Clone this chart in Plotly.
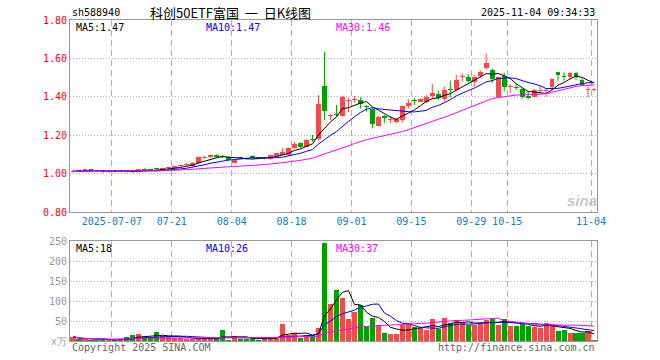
import plotly.graph_objects as go
import pandas as pd

# ---------------- data ----------------
dates = [d.strftime('%Y-%m-%d') for d in pd.bdate_range('2025-06-26', '2025-11-04')
         if not ('2025-10-01' <= d.strftime('%Y-%m-%d') <= '2025-10-08')]

open_ = [1.008, 1.016, 1.016, 1.020, 1.016, 1.012, 1.010, 1.012, 1.010, 1.013,
         1.011, 1.008, 1.022, 1.020, 1.024, 1.020, 1.029, 1.030, 1.040, 1.044,
         1.038, 1.055, 1.083, 1.085, 1.097, 1.090, 1.085, 1.057, 1.084, 1.080,
         1.093, 1.082, 1.079, 1.074, 1.092, 1.097, 1.097, 1.132, 1.158, 1.140,
         1.180, 1.178, 1.456, 1.300, 1.307, 1.300, 1.378, 1.385, 1.383, 1.348,
         1.335, 1.248, 1.295, 1.278, 1.268, 1.279, 1.352, 1.378, 1.375, 1.375,
         1.404, 1.415, 1.387, 1.437, 1.435, 1.503, 1.501, 1.479, 1.510, 1.548,
         1.540, 1.401, 1.508, 1.452, 1.446, 1.439, 1.404, 1.401, 1.430, 1.428,
         1.453, 1.527, 1.507, 1.505, 1.526, 1.488, 1.433, 1.437]
high = [1.022, 1.020, 1.024, 1.022, 1.018, 1.015, 1.014, 1.014, 1.016, 1.016,
        1.014, 1.024, 1.028, 1.024, 1.030, 1.030, 1.036, 1.042, 1.048, 1.056,
        1.060, 1.090, 1.092, 1.099, 1.100, 1.096, 1.088, 1.072, 1.088, 1.084,
        1.096, 1.086, 1.085, 1.099, 1.108, 1.132, 1.135, 1.166, 1.162, 1.178,
        1.201, 1.409, 1.635, 1.310, 1.357, 1.405, 1.395, 1.404, 1.397, 1.357,
        1.340, 1.300, 1.305, 1.297, 1.290, 1.355, 1.387, 1.392, 1.392, 1.409,
        1.467, 1.432, 1.453, 1.484, 1.514, 1.522, 1.518, 1.514, 1.540, 1.626,
        1.548, 1.505, 1.526, 1.466, 1.466, 1.444, 1.427, 1.440, 1.456, 1.444,
        1.496, 1.531, 1.531, 1.531, 1.531, 1.496, 1.453, 1.444]
low = [1.005, 1.010, 1.012, 1.012, 1.008, 1.006, 1.006, 1.006, 1.008, 1.006,
       1.004, 1.006, 1.012, 1.012, 1.016, 1.018, 1.024, 1.028, 1.034, 1.040,
       1.036, 1.052, 1.078, 1.082, 1.083, 1.080, 1.068, 1.054, 1.076, 1.074,
       1.078, 1.075, 1.074, 1.072, 1.090, 1.095, 1.095, 1.128, 1.132, 1.138,
       1.166, 1.175, 1.279, 1.279, 1.297, 1.298, 1.320, 1.370, 1.340, 1.323,
       1.236, 1.245, 1.265, 1.262, 1.262, 1.265, 1.340, 1.357, 1.372, 1.366,
       1.392, 1.383, 1.375, 1.397, 1.427, 1.479, 1.474, 1.453, 1.500, 1.543,
       1.470, 1.400, 1.427, 1.420, 1.435, 1.387, 1.387, 1.397, 1.415, 1.401,
       1.432, 1.484, 1.484, 1.490, 1.488, 1.456, 1.397, 1.427]
close = [1.012, 1.014, 1.020, 1.016, 1.012, 1.010, 1.012, 1.010, 1.013, 1.011,
         1.008, 1.022, 1.020, 1.018, 1.022, 1.027, 1.032, 1.040, 1.043, 1.050,
         1.057, 1.088, 1.086, 1.097, 1.085, 1.088, 1.071, 1.070, 1.079, 1.078,
         1.081, 1.080, 1.082, 1.097, 1.106, 1.114, 1.132, 1.154, 1.137, 1.175,
         1.177, 1.363, 1.328, 1.305, 1.303, 1.397, 1.383, 1.390, 1.363, 1.345,
         1.258, 1.297, 1.292, 1.281, 1.282, 1.352, 1.366, 1.376, 1.389, 1.397,
         1.422, 1.392, 1.435, 1.434, 1.488, 1.506, 1.484, 1.505, 1.531, 1.578,
         1.491, 1.501, 1.449, 1.456, 1.444, 1.397, 1.392, 1.435, 1.432, 1.431,
         1.491, 1.514, 1.505, 1.526, 1.501, 1.461, 1.436, 1.440]
volume = [11, 4, 4, 3, 3, 3, 2, 4, 3, 10,
          14, 18, 10, 10, 22, 12, 10, 8, 8, 6,
          4, 4, 8, 4, 8, 27, 3, 12, 5, 5,
          4, 3, 8, 10, 10, 42, 16, 19, 8, 15,
          14, 33, 246, 93, 128, 108, 55, 72, 89, 37,
          57, 40, 20, 17, 17, 40, 44, 35, 33, 27,
          54, 30, 57, 45, 52, 45, 41, 41, 45, 52,
          54, 40, 54, 37, 37, 44, 37, 35, 32, 46,
          41, 24, 27, 20, 20, 21, 26, 3]

price_ticks = [0.8, 1.0, 1.2, 1.4, 1.6, 1.8]
vol_ticks = [0, 50, 100, 150, 200, 250]
vol_tick_text = ['x万', '50', '100', '150', '200', '250']
date_tick_dates = ['2025-07-07', '2025-07-21', '2025-08-04', '2025-08-18', '2025-09-01',
                   '2025-09-15', '2025-09-29', '2025-10-15', '2025-11-04']
date_tick_text = ['2025-07-07', '07-21', '08-04', '08-18', '09-01',
                  '09-15', '09-29', '10-15', '11-04']

# ---------------- derived ----------------
n = len(dates)
x = list(range(n))
cs = pd.Series(close)
vs = pd.Series(volume, dtype=float)
ma = {k: cs.rolling(k, min_periods=1).mean() for k in (5, 10, 30)}
vma = {k: vs.rolling(k, min_periods=1).mean() for k in (5, 10, 30)}

RED = '#f24b4b'
GREEN = '#00a000'
MA_COL = {5: '#000000', 10: '#0000ff', 30: '#ff00ff'}

up = [c >= o for o, c in zip(open_, close)]

fig = go.Figure()

# wicks
for flag, col in ((True, RED), (False, GREEN)):
    wx, wy = [], []
    for i in x:
        if up[i] == flag:
            wx += [i, i, None]
            wy += [low[i], high[i], None]
    fig.add_trace(go.Scatter(x=wx, y=wy, mode='lines', line=dict(color=col, width=1),
                             hoverinfo='skip', xaxis='x', yaxis='y'))

# bodies
for flag, col in ((True, RED), (False, GREEN)):
    bx = [i for i in x if up[i] == flag]
    base = [min(open_[i], close[i]) for i in bx]
    hgt = [max(abs(close[i] - open_[i]), 0.0055) for i in bx]
    fig.add_trace(go.Bar(x=bx, y=hgt, base=base, width=0.8, marker=dict(color=col, line=dict(width=0)),
                         xaxis='x', yaxis='y'))

# price MAs
for k in (5, 10, 30):
    fig.add_trace(go.Scatter(x=x, y=ma[k], mode='lines', line=dict(color=MA_COL[k], width=1),
                             xaxis='x', yaxis='y'))

# volume bars
for flag, col in ((True, RED), (False, GREEN)):
    bx = [i for i in x if up[i] == flag]
    fig.add_trace(go.Bar(x=bx, y=[volume[i] for i in bx], width=0.85,
                         marker=dict(color=col, line=dict(width=0)), xaxis='x2', yaxis='y2'))

for k in (5, 10, 30):
    fig.add_trace(go.Scatter(x=x, y=vma[k], mode='lines', line=dict(color=MA_COL[k], width=1),
                             xaxis='x2', yaxis='y2'))

# ---------------- layout ----------------
L, R, T, B = 70, 597, 20, 341
W = R - L
H = B - T


def px(xx, yy):
    return (xx - L) / W, (B - yy) / H


main_bottom = 212
vol_top = 241
tickpos = [dates.index(d) - 0.5 for d in date_tick_dates]
MONO = 'DejaVu Sans Mono'

axis_common = dict(showline=True, mirror=True, linecolor='#999999', linewidth=1,
                   zeroline=False, ticks='', fixedrange=True, automargin=False)

fig.update_layout(
    width=660, height=360,
    margin=dict(l=L, r=660 - R, t=T, b=360 - B, autoexpand=False),
    paper_bgcolor='white', plot_bgcolor='white',
    showlegend=False, barmode='overlay', bargap=0,
    xaxis=dict(domain=[0, 1], anchor='y', range=[-0.5, n - 0.5],
               tickvals=tickpos, ticktext=date_tick_text,
               tickfont=dict(family=MONO, size=10, color='#0a7fc8'),
               showgrid=True, gridcolor='#b0b0b0', griddash='6px,4px', gridwidth=1,
               **axis_common),
    yaxis=dict(domain=[px(0, main_bottom)[1], 1], anchor='x', range=[0.8, 1.8],
               tickvals=price_ticks, tickformat='.2f',
               tickfont=dict(family=MONO, size=10, color='#ff0000'),
               showgrid=True, gridcolor='#b0b0b0', griddash='1px,2px', gridwidth=1,
               **axis_common),
    xaxis2=dict(domain=[0, 1], anchor='y2', matches='x', range=[-0.5, n - 0.5],
                tickvals=tickpos, showticklabels=False,
                showgrid=True, gridcolor='#b0b0b0', griddash='6px,4px', gridwidth=1,
                **axis_common),
    yaxis2=dict(domain=[0, px(0, vol_top)[1]], anchor='x2', range=[0, 250],
                tickvals=vol_ticks, ticktext=vol_tick_text,
                tickfont=dict(family=MONO, size=10, color='#999999'),
                showgrid=True, gridcolor='#b0b0b0', griddash='1px,2px', gridwidth=1,
                **axis_common),
)

anns = []


def add_text(text, xx, yy, anchor='left', color='black', size=10, family=MONO):
    a, b = px(xx, yy)
    anns.append(dict(text=text, x=a, y=b, xref='paper', yref='paper', xanchor=anchor,
                     yanchor='middle', showarrow=False,
                     font=dict(family=family, size=size, color=color)))


add_text('sh588940', 70, 12, 'left', 'black', 10)
add_text('科创50ETF富国\u00a0\u00a0一\u00a0\u00a0日K线图', 230, 12, 'center', 'black', 13, 'Noto Sans CJK SC')
add_text('2025-11-04 09:34:33', 597, 12, 'right', 'black', 10)

add_text('MA5:%.2f' % ma[5].iloc[-1], 74, 27, 'left', MA_COL[5])
add_text('MA10:%.2f' % ma[10].iloc[-1], 204, 27, 'left', MA_COL[10])
add_text('MA30:%.2f' % ma[30].iloc[-1], 334, 27, 'left', MA_COL[30])

add_text('MA5:%d' % round(vma[5].iloc[-1]), 74, 248, 'left', MA_COL[5])
add_text('MA10:%d' % round(vma[10].iloc[-1]), 204, 248, 'left', MA_COL[10])
add_text('MA30:%d' % round(vma[30].iloc[-1]), 334, 248, 'left', MA_COL[30])

add_text('Copyright 2025 SINA.COM', 70, 348, 'left', '#666666', 10)
add_text('http://finance.sina.com.cn', 597, 348, 'right', '#666666', 10)
add_text('<b><i>sina</i></b>', 582, 200, 'center', '#c8c8c8', 15, 'Liberation Sans')

fig.update_layout(annotations=anns)

fig.write_html('out.html', config={'displayModeBar': False, 'staticPlot': True},
               post_script="document.body.style.margin='0px';")
